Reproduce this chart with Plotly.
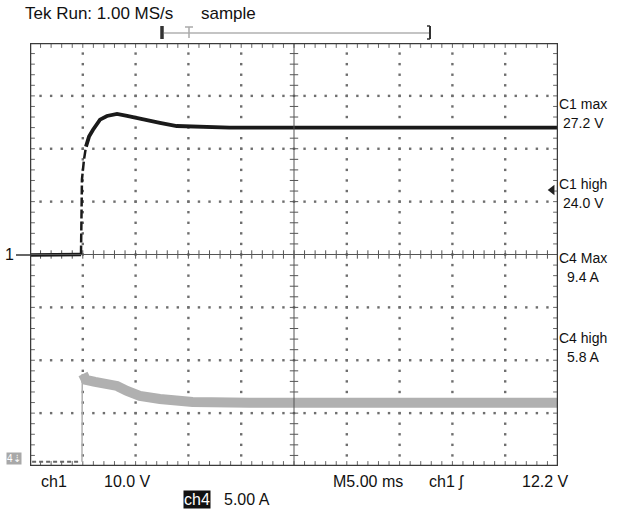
import plotly.graph_objects as go

# ---------------- data ----------------
# channel 1 voltage (V) vs time (ms); 10 V/div, ground at screen centre
ch1_t = [0.0, 2.0, 4.0, 4.83, 4.92, 5.11, 5.30, 5.59, 5.97, 6.63, 7.29, 8.24, 9.19, 10.7, 12.3, 13.9, 15.4, 18.9, 30.0, 40.0, 50.0]
ch1_v = [-0.1, -0.1, 0.0, 0.0, 14.2, 17.9, 20.4, 22.3, 23.6, 25.5, 26.2, 26.6, 26.2, 25.5, 24.9, 24.3, 24.2, 24.0, 24.0, 24.0, 24.0]

# channel 4 current (A) vs time (ms); 5 A/div
ch4_pre_t = [0.2, 4.7]
ch4_pre_a = [0.0, 0.0]
ch4_rise_t = [4.92, 4.95]
ch4_rise_a = [0.0, 8.3]
ch4_t = [5.02, 5.30, 6.16, 7.29, 8.24, 9.19, 10.4, 12.3, 15.4, 20.8, 30.0, 40.0, 50.0]
ch4_a = [8.30, 7.74, 7.55, 7.45, 7.17, 6.70, 6.23, 5.94, 5.66, 5.57, 5.57, 5.57, 5.57]

ch1_scale = 10.0   # V/div
ch4_scale = 5.0    # A/div
ch4_offset = -3.92 # div
trigger_level = 12.2  # V

top_left = "Tek Run: 1.00 MS/s"
top_mode = "sample"
right_labels = [("C1 max", "27.2 V"), ("C1 high", "24.0 V"), ("C4 Max", "9.4 A"), ("C4 high", "5.8 A")]
bottom_row1 = [("ch1", 39), ("10.0 V", 102), ("M5.00 ms", 331), ("ch1 ʃ", 427), ("12.2 V", 520)]

# ---------------- geometry ----------------
W, H = 629, 509
L, R, T, B = 30, 558, 43, 466
def px(x): return x / W
def py(y): return 1 - y / H

FONT = "Liberation Sans, Arial, Helvetica, sans-serif"
fig = go.Figure()

# dotted graticule
gx, gy = [], []
for i in range(1, 10):
    if i == 5:
        continue
    for k in range(-19, 20):
        gx.append(i * 5.0); gy.append(k * 0.2)
for j in range(-3, 4):
    if j == 0:
        continue
    for k in range(1, 50):
        gx.append(k * 1.0); gy.append(float(j))
fig.add_trace(go.Scatter(x=gx, y=gy, mode="markers", hoverinfo="skip",
                         marker=dict(symbol="square", size=2.4, color="#6e6e6e", line=dict(width=0))))

# centre cross-hair lines
fig.add_shape(type="line", x0=25, x1=25, y0=-4, y1=4, line=dict(color="#555", width=1))
fig.add_shape(type="line", x0=0, x1=50, y0=0, y1=0, line=dict(color="#555", width=1))
tx = [k * 1.0 for k in range(1, 50)]
fig.add_trace(go.Scatter(x=tx, y=[0] * len(tx), mode="markers", hoverinfo="skip",
                         marker=dict(symbol="line-ns", size=6, line=dict(color="#555", width=1))))
ty = [k * 0.2 for k in range(-19, 20)]
fig.add_trace(go.Scatter(x=[25] * len(ty), y=ty, mode="markers", hoverinfo="skip",
                         marker=dict(symbol="line-ew", size=6, line=dict(color="#555", width=1))))
# edge ticks
fig.add_trace(go.Scatter(x=tx + tx, y=[4] * len(tx) + [-4] * len(tx), mode="markers", hoverinfo="skip",
                         cliponaxis=True,
                         marker=dict(symbol="line-ns", size=7, line=dict(color="#666", width=1))))
fig.add_trace(go.Scatter(x=[0] * len(ty) + [50] * len(ty), y=ty + ty, mode="markers", hoverinfo="skip",
                         cliponaxis=True,
                         marker=dict(symbol="line-ew", size=7, line=dict(color="#666", width=1))))

# channel 4 (grey)
fig.add_trace(go.Scatter(x=ch4_pre_t, y=[ch4_offset + a / ch4_scale for a in ch4_pre_a], mode="lines",
                         hoverinfo="skip", line=dict(color="#666", width=2, dash="4px,3px")))
fig.add_trace(go.Scatter(x=ch4_rise_t, y=[ch4_offset + a / ch4_scale for a in ch4_rise_a], mode="lines",
                         hoverinfo="skip", line=dict(color="#b0b0b0", width=1.5)))
fig.add_trace(go.Scatter(x=ch4_t, y=[ch4_offset + a / ch4_scale for a in ch4_a], mode="lines",
                         hoverinfo="skip", line=dict(color="#b0b0b0", width=10)))

# channel 1 (black): flat part, sparsely sampled rising edge (dashed), settled part
ch1_y = [v / ch1_scale for v in ch1_v]
fig.add_trace(go.Scatter(x=ch1_t[:4], y=ch1_y[:4], mode="lines",
                         hoverinfo="skip", line=dict(color="#1a1a1a", width=3.5)))
fig.add_trace(go.Scatter(x=ch1_t[3:7], y=ch1_y[3:7], mode="lines",
                         hoverinfo="skip", line=dict(color="#1a1a1a", width=2.5, dash="9px,3px")))
fig.add_trace(go.Scatter(x=ch1_t[6:], y=ch1_y[6:], mode="lines",
                         hoverinfo="skip", line=dict(color="#1a1a1a", width=3.8)))

# trigger level arrow
fig.add_trace(go.Scatter(x=[49.45], y=[trigger_level / ch1_scale], mode="markers", hoverinfo="skip",
                         cliponaxis=False,
                         marker=dict(symbol="triangle-left", size=9, color="#222")))

# screen border
fig.add_shape(type="rect", x0=0, x1=50, y0=-4, y1=4, line=dict(color="#3a3a3a", width=2.5))

# record bracket at top
fig.add_shape(type="line", xref="paper", yref="paper", x0=px(164), x1=px(429), y0=py(33), y1=py(33),
              line=dict(color="#c4c4c4", width=2))
fig.add_shape(type="line", xref="paper", yref="paper", x0=px(162), x1=px(162), y0=py(26), y1=py(39),
              line=dict(color="#333", width=3.5))
fig.add_shape(type="line", xref="paper", yref="paper", x0=px(430), x1=px(430), y0=py(26), y1=py(39),
              line=dict(color="#333", width=2))
fig.add_shape(type="line", xref="paper", yref="paper", x0=px(427), x1=px(430), y0=py(26), y1=py(26),
              line=dict(color="#333", width=1.5))
fig.add_shape(type="line", xref="paper", yref="paper", x0=px(427), x1=px(430), y0=py(39), y1=py(39),
              line=dict(color="#333", width=1.5))
fig.add_shape(type="line", xref="paper", yref="paper", x0=px(189), x1=px(189), y0=py(27), y1=py(38),
              line=dict(color="#aaa", width=1.5))
fig.add_shape(type="line", xref="paper", yref="paper", x0=px(185), x1=px(193), y0=py(27), y1=py(27),
              line=dict(color="#aaa", width=1.5))

# ch1 ground marker
fig.add_shape(type="line", xref="paper", yref="paper", x0=px(16), x1=px(30), y0=py(255), y1=py(255),
              line=dict(color="#333", width=1.5))

ann = []
def text(x, y, s, anchor="left", size=16, color="#111", **kw):
    ann.append(dict(x=px(x), y=py(y), xref="paper", yref="paper", text=s, showarrow=False,
                    xanchor=anchor, yanchor="middle", font=dict(family=FONT, size=size, color=color), **kw))

text(23, 14, top_left, size=17)
text(199, 14, top_mode, size=17)
text(9, 254, "1", anchor="center")
ys = [(104, 123), (184, 203), (258, 277), (338, 357)]
for (a, b), (y1, y2) in zip(right_labels, ys):
    text(583, y1, a, anchor="center", size=14)
    text(583, y2, b, anchor="center", size=14)
for s, x in bottom_row1:
    text(x, 481, s)
text(183, 499, "ch4", color="#ffffff", bgcolor="#111111", borderpad=0)
text(222, 499, "5.00 A")
text(6, 458, "4⇣", size=10, color="#ffffff", bgcolor="#a8a8a8", borderpad=0)

fig.update_layout(
    width=W, height=H, margin=dict(l=0, r=0, t=0, b=0),
    paper_bgcolor="white", plot_bgcolor="white", showlegend=False,
    xaxis=dict(domain=[px(L), px(R)], range=[0, 50], showgrid=False, zeroline=False,
               showticklabels=False, ticks="", fixedrange=True),
    yaxis=dict(domain=[py(B), py(T)], range=[-4, 4], showgrid=False, zeroline=False,
               showticklabels=False, ticks="", fixedrange=True),
    annotations=ann,
)
fig.write_html("out.html", config={"displayModeBar": False},
               post_script="document.body.style.margin='0px';document.body.style.overflow='hidden';")
